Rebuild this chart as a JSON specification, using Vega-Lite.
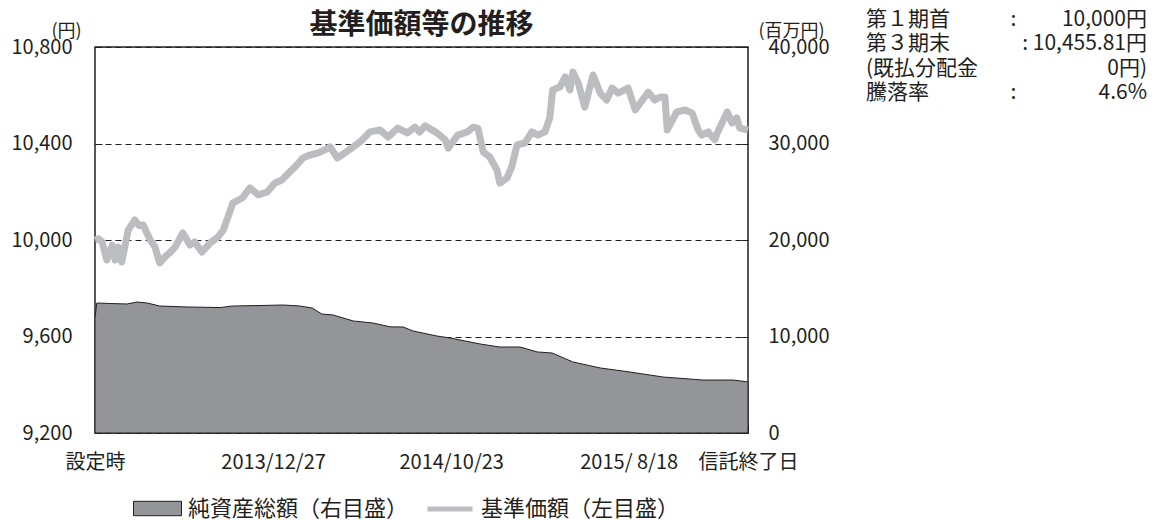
{
  "$schema": "https://vega.github.io/schema/vega-lite/v6.json",
  "background": "white",
  "padding": {"left": 10, "top": 9, "right": 0, "bottom": 0},
  "config": {
    "font": "Noto Sans CJK JP",
    "view": {"stroke": null},
    "axis": {"labelFont": "Noto Sans CJK JP", "labelColor": "#231f20", "labelFontSize": 20, "titleFont": "Noto Sans CJK JP", "titleFontWeight": "normal", "titleColor": "#231f20", "domain": false, "tickColor": "#231f20", "tickWidth": 1},
    "legend": {"labelFontSize": 22, "labelColor": "#231f20", "labelFont": "Noto Sans CJK JP", "labelLimit": 400, "padding": 0},
    "concat": {"spacing": 30}
  },
  "datasets": {
    "price": [
      {"day":0,"price":10000},{"day":6,"price":10005},{"day":12,"price":9992},{"day":20,"price":9917},{"day":29,"price":9979},{"day":34,"price":9917},{"day":39,"price":9971},{"day":45,"price":9909},{"day":56,"price":10041},{"day":67,"price":10083},{"day":74,"price":10060},{"day":81,"price":10062},{"day":93,"price":10000},{"day":101,"price":9971},{"day":109,"price":9905},{"day":118,"price":9930},{"day":127,"price":9950},{"day":135,"price":9971},{"day":148,"price":10029},{"day":160,"price":9979},{"day":168,"price":9992},{"day":180,"price":9950},{"day":194,"price":9988},{"day":207,"price":10012},{"day":216,"price":10041},{"day":224,"price":10095},{"day":232,"price":10153},{"day":248,"price":10174},{"day":261,"price":10216},{"day":275,"price":10187},{"day":290,"price":10199},{"day":303,"price":10236},{"day":315,"price":10249},{"day":328,"price":10282},{"day":340,"price":10311},{"day":350,"price":10340},{"day":362,"price":10352},{"day":376,"price":10361},{"day":387,"price":10373},{"day":396,"price":10386},{"day":408,"price":10340},{"day":421,"price":10361},{"day":435,"price":10386},{"day":450,"price":10415},{"day":463,"price":10448},{"day":480,"price":10456},{"day":494,"price":10427},{"day":510,"price":10464},{"day":526,"price":10444},{"day":539,"price":10468},{"day":547,"price":10448},{"day":556,"price":10473},{"day":576,"price":10444},{"day":590,"price":10415},{"day":595,"price":10381},{"day":611,"price":10435},{"day":627,"price":10448},{"day":637,"price":10468},{"day":645,"price":10464},{"day":654,"price":10365},{"day":665,"price":10344},{"day":677,"price":10290},{"day":682,"price":10236},{"day":694,"price":10257},{"day":702,"price":10303},{"day":711,"price":10394},{"day":724,"price":10402},{"day":736,"price":10448},{"day":746,"price":10435},{"day":758,"price":10448},{"day":766,"price":10506},{"day":771,"price":10622},{"day":783,"price":10634},{"day":792,"price":10676},{"day":800,"price":10622},{"day":805,"price":10696},{"day":814,"price":10651},{"day":825,"price":10551},{"day":839,"price":10684},{"day":851,"price":10609},{"day":862,"price":10580},{"day":871,"price":10630},{"day":881,"price":10609},{"day":898,"price":10630},{"day":910,"price":10539},{"day":932,"price":10613},{"day":943,"price":10580},{"day":952,"price":10593},{"day":960,"price":10593},{"day":964,"price":10456},{"day":980,"price":10531},{"day":994,"price":10539},{"day":1006,"price":10526},{"day":1016,"price":10456},{"day":1022,"price":10435},{"day":1033,"price":10448},{"day":1044,"price":10415},{"day":1049,"price":10448},{"day":1065,"price":10531},{"day":1073,"price":10485},{"day":1081,"price":10506},{"day":1086,"price":10464},{"day":1100,"price":10456}
    ],
    "nav": [
      {"day":0,"nav":11900},{"day":3,"nav":13470},{"day":25,"nav":13420},{"day":54,"nav":13370},{"day":71,"nav":13575},{"day":88,"nav":13470},{"day":109,"nav":13160},{"day":155,"nav":13060},{"day":211,"nav":13000},{"day":232,"nav":13160},{"day":278,"nav":13210},{"day":317,"nav":13264},{"day":345,"nav":13160},{"day":366,"nav":12950},{"day":382,"nav":12330},{"day":401,"nav":12230},{"day":435,"nav":11610},{"day":468,"nav":11400},{"day":497,"nav":11000},{"day":519,"nav":10985},{"day":536,"nav":10570},{"day":576,"nav":10050},{"day":598,"nav":9850},{"day":649,"nav":9220},{"day":682,"nav":8910},{"day":716,"nav":8910},{"day":745,"nav":8400},{"day":770,"nav":8290},{"day":805,"nav":7360},{"day":851,"nav":6740},{"day":901,"nav":6320},{"day":957,"nav":5800},{"day":1024,"nav":5490},{"day":1075,"nav":5490},{"day":1100,"nav":5290}
    ],
    "info": [
      {"row":1,"label":"第１期首","colon":":","value":"10,000円"},
      {"row":2,"label":"第３期末","colon":"","value":":   10,455.81円"},
      {"row":3,"label":"(既払分配金","colon":"","value":"0円)"},
      {"row":4,"label":"騰落率","colon":":","value":"4.6%"}
    ]
  },
  "hconcat": [
    {
      "width": 653,
      "height": 386,
      "title": {"text": "基準価額等の推移", "fontSize": 28, "fontWeight": "bold", "frame": "group", "anchor": "middle", "offset": -18, "color": "#231f20", "font": "Noto Sans CJK JP"},
      "view": {"stroke": "#231f20", "strokeWidth": 1.5},
      "encoding": {
        "x": {"field": "day", "type": "quantitative", "scale": {"domain": [0, 1100], "nice": false, "zero": false},
          "axis": {"values": [0, 300, 600, 899, 1100], "labelExpr": "datum.value == 0 ? '設定時' : datum.value == 300 ? '2013/12/27' : datum.value == 600 ? '2014/10/23' : datum.value == 899 ? '2015/ 8/18' : '信託終了日'", "tickSize": -8, "labelPadding": 27, "grid": false, "title": null, "labelFlush": false, "labelOverlap": false}}
      },
      "layer": [
        {
          "data": {"name": "nav"},
          "mark": {"type": "area", "stroke": "#231f20", "strokeWidth": 1, "fillOpacity": 1},
          "encoding": {
            "y": {"field": "nav", "type": "quantitative", "scale": {"domain": [0, 40000], "nice": false},
              "axis": {"orient": "right", "values": [0, 10000, 20000, 30000, 40000], "format": ",d", "grid": false, "tickSize": -7, "labelPadding": 27, "title": "(百万円)", "titleAngle": 0, "titleX": 43, "titleY": -16, "titleAlign": "center", "titleBaseline": "middle", "titleFontSize": 18}},
            "fill": {"datum": "純資産総額（右目盛）", "type": "nominal",
              "scale": {"domain": ["純資産総額（右目盛）"], "range": ["#939598"]},
              "legend": {"orient": "none", "legendX": 38, "legendY": 437, "direction": "horizontal", "title": null, "symbolType": "M-1,-0.3H1V0.3H-1Z", "symbolSize": 2304, "symbolStrokeColor": "#231f20", "symbolStrokeWidth": 1, "symbolFillColor": "#939598", "symbolOpacity": 1, "labelOffset": 6}}
          }
        },
        {
          "data": {"name": "price"},
          "mark": {"type": "line", "strokeWidth": 7, "strokeJoin": "round", "strokeCap": "butt"},
          "encoding": {
            "y": {"field": "price", "type": "quantitative", "scale": {"domain": [9200, 10800], "nice": false, "zero": false},
              "axis": {"orient": "left", "values": [9200, 9600, 10000, 10400, 10800], "format": ",d", "grid": true, "gridDash": [6, 4], "gridColor": "#231f20", "gridWidth": 1, "gridOpacity": 1, "tickSize": -7, "labelPadding": 30, "title": "(円)", "titleAngle": 0, "titleX": -29, "titleY": -16, "titleAlign": "center", "titleBaseline": "middle", "titleFontSize": 18}},
            "stroke": {"datum": "基準価額（左目盛）", "type": "nominal",
              "scale": {"domain": ["基準価額（左目盛）"], "range": ["#bcbdc0"]},
              "legend": {"orient": "none", "legendX": 330, "legendY": 437, "direction": "horizontal", "title": null, "symbolType": "M-1,0H1", "symbolSize": 2025, "symbolStrokeWidth": 5, "symbolStrokeColor": "#bcbdc0", "symbolOpacity": 1, "labelOffset": 6}}
          }
        }
      ],
      "resolve": {"scale": {"y": "independent"}}
    },
    {
      "width": 290,
      "height": 98,
      "view": {"stroke": null},
      "data": {"name": "info"},
      "encoding": {
        "y": {"field": "row", "type": "ordinal", "axis": null, "scale": {"type": "point", "padding": 0, "range": [-27, 46]}}
      },
      "layer": [
        {"mark": {"type": "text", "align": "left", "baseline": "middle", "fontSize": 21, "color": "#231f20", "font": "Noto Sans CJK JP"},
         "encoding": {"x": {"datum": "label", "type": "nominal", "scale": {"type": "point", "domain": ["label", "colon", "value"], "range": [6, 287], "padding": 0}, "axis": null}, "text": {"field": "label"}}},
        {"mark": {"type": "text", "align": "center", "baseline": "middle", "fontSize": 21, "color": "#231f20", "font": "Noto Sans CJK JP", "dx": 7},
         "encoding": {"x": {"datum": "colon", "type": "nominal"}, "text": {"field": "colon"}}},
        {"mark": {"type": "text", "align": "right", "baseline": "middle", "fontSize": 21, "color": "#231f20", "font": "Noto Sans CJK JP"},
         "encoding": {"x": {"datum": "value", "type": "nominal"}, "text": {"field": "value"}}}
      ]
    }
  ]
}
